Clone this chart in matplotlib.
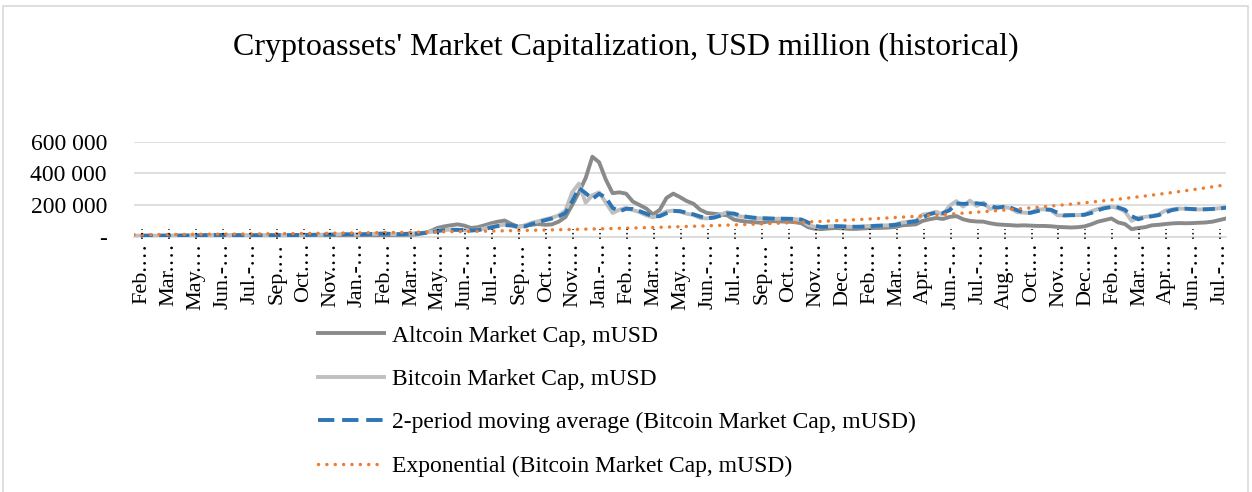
import numpy as np
import pandas as pd
import matplotlib
matplotlib.use("Agg")
import matplotlib.pyplot as plt
from matplotlib.lines import Line2D
from matplotlib.patches import Rectangle

plt.rcParams['font.family'] = ['Liberation Serif', 'DejaVu Serif']

# ---------------- data (thousand mUSD, ~10-day samples) ----------------
bitcoin_k = [
    6.5, 6.3, 6.4, 6.6, 6.7, 6.9, 7.1, 7.3, 7.6, 8.2,
    9.0, 11.5, 10.2, 10.6, 10.4, 10.3, 9.2, 9.1, 9.0, 9.5,
    9.6, 9.5, 9.9, 10.2, 11.2, 11.5, 11.6, 11.8, 12.3, 12.8,
    14.2, 16.5, 13.2, 14.6, 16.0, 16.2, 18.7, 20.0, 16.4, 15.6,
    18.0, 19.2, 21.5, 25.0, 30.0, 40.0, 43.0, 44.0, 43.0, 41.5,
    38.0, 45.0, 52.0, 65.0, 70.0, 76.0, 68.0, 58.0, 72.0, 88.0,
    98, 110, 120, 135, 165, 280, 335, 215, 262, 280,
    215, 150, 170, 182, 168, 155, 135, 122, 137, 160,
    165, 158, 145, 137, 118, 115, 125, 140, 155, 138,
    128, 122, 118, 116, 115, 113, 114, 113, 112, 105,
    75, 63, 60, 66, 67, 64, 63, 62, 64, 68,
    69, 71, 72, 78, 90, 95, 100, 140, 145, 158,
    140, 195, 225, 190, 228, 195, 215, 175, 190, 188,
    180, 155, 152, 150, 172, 173, 168, 135, 134, 137,
    136, 140, 160, 175, 185, 190, 180, 160, 100, 120,
    125, 132, 140, 165, 172, 178, 176, 173, 172, 174,
    176, 180, 186,
]

altcoin_k = [
    1.8, 1.9, 2.1, 2.3, 2.4, 2.6, 2.7, 2.6, 2.8, 3.0,
    3.2, 3.5, 3.2, 3.0, 2.9, 2.8, 2.9, 2.8, 2.7, 2.6,
    2.7, 2.8, 2.9, 3.0, 3.0, 3.1, 3.0, 3.1, 3.2, 3.4,
    3.6, 4.0, 3.8, 3.9, 4.2, 4.5, 5.5, 7.5, 8.0, 10.5,
    11.0, 12.0, 15.0, 22.0, 35.0, 55.0, 65.0, 72.0, 78.0, 70.0,
    55.0, 60.0, 72.0, 85.0, 95.0, 102.0, 80.0, 63.0, 70.0, 75.0,
    80, 75, 78, 95, 124, 200, 280, 370, 505, 470,
    360, 275, 280, 272, 222, 200, 178, 140, 170, 245,
    272, 250, 225, 208, 170, 150, 145, 140, 135, 108,
    100, 95, 92, 88, 95, 98, 96, 95, 92, 85,
    60, 50, 48, 52, 55, 53, 50, 49, 52, 54,
    55, 56, 58, 62, 72, 75, 78, 100, 110, 118,
    112, 125, 130, 110, 100, 96, 95, 85, 78, 75,
    73, 70, 72, 70, 68, 68, 66, 62, 60, 58,
    60, 65, 78, 95, 105, 115, 90, 80, 48, 55,
    60, 72, 75, 80, 84, 86, 85, 86, 88, 90,
    95, 105, 115,
]

tick_labels = [
    "Feb.…", "Mar.…", "May.…", "Jun.-…", "Jul.-…", "Sep.…", "Oct.…", "Nov.…", "Jan.-…",
    "Feb.…", "Mar.…", "May.…", "Jun.-…", "Jul.-…", "Sep.…", "Oct.…", "Nov.…", "Jan.-…",
    "Feb.…", "Mar.…", "May.…", "Jun.-…", "Jul.-…", "Sep.…", "Oct.…", "Nov.…", "Dec.…",
    "Feb.…", "Mar.…", "Apr.…", "Jun.-…", "Jul.-…", "Aug.…", "Oct.…", "Nov.…", "Dec.…",
    "Feb.…", "Mar.…", "Apr.…", "Jun.-…", "Jul.-…",
]

y_ticks = [0, 200000, 400000, 600000]
y_tick_labels = ["-", "200 000", "400 000", "600 000"]

series_names = [
    "Altcoin Market Cap, mUSD",
    "Bitcoin Market Cap, mUSD",
    "2-period moving average (Bitcoin Market Cap, mUSD)",
    "Exponential (Bitcoin Market Cap, mUSD)",
]
title = "Cryptoassets' Market Capitalization, USD million (historical)"

# ---------------- derived series ----------------
bitcoin = np.array(bitcoin_k) * 1000.0
altcoin = np.array(altcoin_k) * 1000.0
idx = np.arange(len(bitcoin))
moving_avg = pd.Series(bitcoin).rolling(2).mean().to_numpy()
coef = np.polyfit(idx, np.log(bitcoin), 1)
trend = np.exp(coef[1] + coef[0] * idx)

# ---------------- figure ----------------
W, H = 1252, 492
fig = plt.figure(figsize=(W / 100, H / 100), dpi=100)
fig.patch.set_facecolor('white')

ax = fig.add_axes([134 / W, 1 - 236.7 / H, (1226 - 134) / W, (236.7 - 141.7) / H])

c_alt = '#8a8a8a'
c_btc = '#bfbfbf'
c_ma = '#2e75b6'
c_exp = '#ed7d31'

lw = 2.8
ax.plot(idx, altcoin, color=c_alt, lw=lw, solid_joinstyle='round', zorder=3)
ax.plot(idx, bitcoin, color=c_btc, lw=lw, solid_joinstyle='round', zorder=4)
ax.plot(idx, moving_avg, color=c_ma, lw=lw, dashes=(3.1, 1.6), zorder=5)
ax.plot(idx, trend, color=c_exp, lw=2.5, dashes=(0.01, 2.4),
        dash_capstyle='round', zorder=6)

ax.set_xlim(0, len(idx) - 1)
ax.set_ylim(0, 600000)

tick_pos = [1.15 + 4 * k for k in range(len(tick_labels))]
ax.set_xticks(tick_pos)
ax.set_xticklabels(tick_labels, rotation=90, fontsize=16, va='top', ha='center')
ax.tick_params(axis='x', length=0, pad=4)
for p in tick_pos:
    ax.plot([p, p], [-0.02, 0.08], transform=ax.get_xaxis_transform(),
            color='black', lw=1.1, linestyle=(0, (1, 2)), clip_on=False, zorder=7)

ax.set_yticks(y_ticks)
ax.set_yticklabels(y_tick_labels, fontsize=17)
ax.tick_params(axis='y', length=0, pad=19.5)

ax.grid(axis='y', color='#d9d9d9', lw=1.2)
ax.set_axisbelow(True)
for s in ['top', 'right', 'left']:
    ax.spines[s].set_visible(False)
ax.spines['bottom'].set_color('#d9d9d9')
ax.spines['bottom'].set_linewidth(1.2)

fig.text(0.5, 1 - 47 / H, title, ha='center', va='center', fontsize=23)

handles = [
    Line2D([], [], color=c_alt, lw=lw),
    Line2D([], [], color=c_btc, lw=lw),
    Line2D([], [], color=c_ma, lw=lw, dashes=(4.2, 2.0)),
    Line2D([], [], color=c_exp, lw=2.5, dashes=(0.01, 2.4), dash_capstyle='round'),
]
fig.legend(handles, series_names, loc='upper left',
           bbox_to_anchor=(318 / W, 1 - 325 / H), frameon=False, fontsize=17,
           handlelength=2.8, handletextpad=0.35, labelspacing=0.93,
           borderpad=0, borderaxespad=0)

fig.add_artist(Rectangle((3 / W, -0.05), (1248 - 3) / W, 1.05 - 6 / H,
                         transform=fig.transFigure, fill=False,
                         ec='#d9d9d9', lw=1.2))

fig.savefig('out.png', dpi=100)
